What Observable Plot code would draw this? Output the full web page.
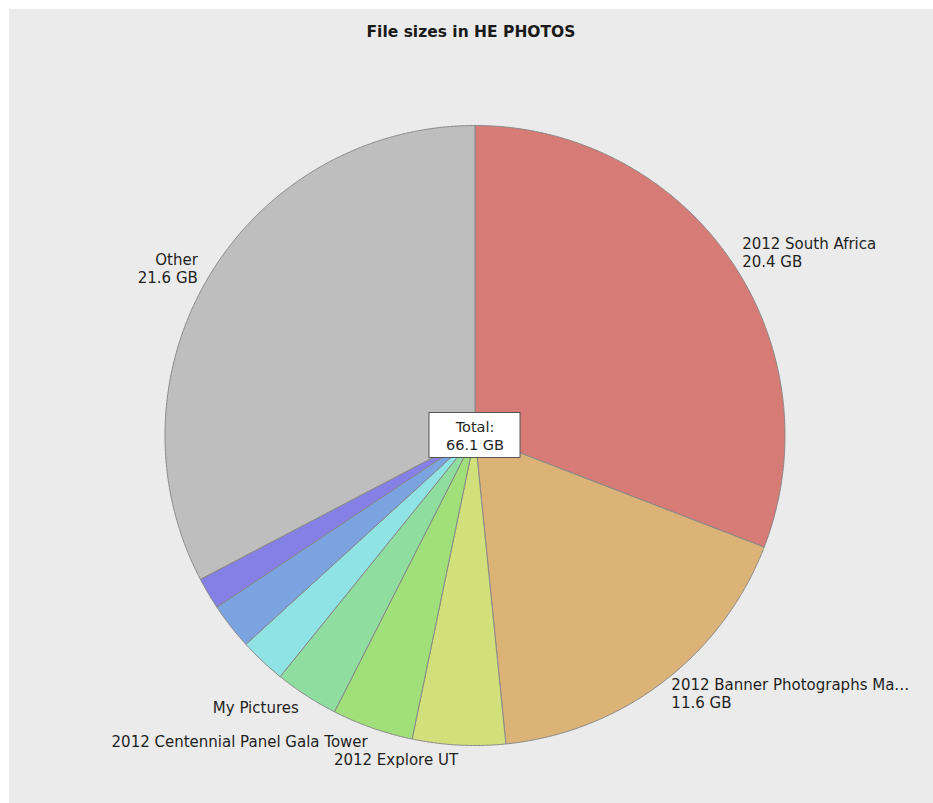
<!DOCTYPE html>
<html>
<head>
<meta charset="utf-8">
<script src="https://cdn.jsdelivr.net/npm/d3@7"></script>
<script src="https://cdn.jsdelivr.net/npm/@observablehq/plot@0.6"></script>
<style>
  html, body { margin: 0; padding: 0; background: #ffffff; }
  #frame { position: absolute; left: 9px; top: 9px; width: 924px; height: 794px; background: #ebebeb; }
  #title { height: 46px; font: bold 15.5px "DejaVu Sans", sans-serif; line-height: 46px; text-align: center; color: #1a1a1a; }
</style>
</head>
<body>
<div id="frame">
  <div id="title">File sizes in HE PHOTOS</div>
  <div id="chart"></div>
</div>
<script>
// ---- data ----
const names = [
  "2012 South Africa",
  "2012 Banner Photographs Ma\u2026",
  "2012 Explore UT",
  "2012 Centennial Panel Gala Tower",
  "My Pictures",
  "(unlabelled folder A)",
  "(unlabelled folder B)",
  "(unlabelled folder C)",
  "Other"
];
const sizesGB = [20.4, 11.6, 3.2, 2.8, 2.2, 1.6, 1.6, 1.1, 21.6];
const colors = ["#d67b75", "#dbb377", "#d2e07c", "#a0df7a", "#8fdea0", "#90e3e5", "#7aa3e0", "#8580e5", "#bebebe"];
// how many label lines are visible for each slice (0 = hidden, 1 = name, 2 = name + size)
const labelLines = [2, 2, 1, 1, 1, 0, 0, 0, 2];

// ---- layout ----
const W = 924, H = 748, R = 310, cx = 465.5, cy = 380;
const total = d3.sum(sizesGB);

// compute slice angles clockwise from 12 o'clock
let acc = 0;
const slices = sizesGB.map((v, i) => {
  const a0 = acc / total * 360;
  acc += v;
  const a1 = acc / total * 360;
  return {name: names[i], value: v, color: colors[i], a0, a1, mid: (a0 + a1) / 2, lines: labelLines[i]};
});
const rad = d => d * Math.PI / 180;
function slicePoints(s) {
  const pts = [{x: 0, y: 0}];
  const n = Math.max(2, Math.ceil((s.a1 - s.a0) / 0.25));
  for (let k = 0; k <= n; k++) {
    const a = rad(s.a0 + (s.a1 - s.a0) * k / n);
    pts.push({x: Math.sin(a), y: Math.cos(a)});
  }
  pts.push({x: 0, y: 0});
  return pts;
}

const labelR = 1.045;
const labels = slices.filter(s => s.lines > 0).map(s => ({
  x: Math.sin(rad(s.mid)) * labelR,
  y: Math.cos(rad(s.mid)) * labelR,
  anchor: Math.sin(rad(s.mid)) >= 0 ? "start" : "end",
  text: s.lines === 2 ? `${s.name}\n${s.value.toFixed(1)} GB` : s.name
}));

const boxW = 91 / R, boxH = 45 / R;
const totalData = [{x1: -boxW / 2, x2: boxW / 2, y1: -boxH / 2, y2: boxH / 2, x: 0, y: 0, text: `Total:\n${total.toFixed(1)} GB`}];

const fs = 15, lh = 18 / 15;
const marks = [
  ...slices.map(s => Plot.line(slicePoints(s), {x: "x", y: "y", fill: s.color, stroke: "#888888", strokeWidth: 1, curve: "linear"})),
  Plot.text(labels.filter(d => d.anchor === "start"), {x: "x", y: "y", text: "text", textAnchor: "start", lineAnchor: "middle", lineHeight: lh, fontSize: fs, fill: "#1f1f1f"}),
  Plot.text(labels.filter(d => d.anchor === "end"), {x: "x", y: "y", text: "text", textAnchor: "end", lineAnchor: "middle", lineHeight: lh, fontSize: fs, fill: "#1f1f1f"}),
  Plot.rect(totalData, {x1: "x1", x2: "x2", y1: "y1", y2: "y2", fill: "#ffffff", stroke: "#555555", strokeWidth: 1}),
  Plot.text(totalData, {x: "x", y: "y", text: "text", lineAnchor: "middle", lineHeight: lh, fontSize: 14.5, fill: "#1f1f1f"})
];

const chart = Plot.plot({
  width: W,
  height: H,
  margin: 0,
  style: {background: "transparent", fontFamily: "'DejaVu Sans', sans-serif", overflow: "visible"},
  x: {type: "linear", domain: [-cx / R, (W - cx) / R], range: [0, W], axis: null},
  y: {type: "linear", domain: [cy / R, -(H - cy) / R], range: [0, H], axis: null},
  marks
});
document.getElementById("chart").appendChild(chart);
</script>
</body>
</html>
